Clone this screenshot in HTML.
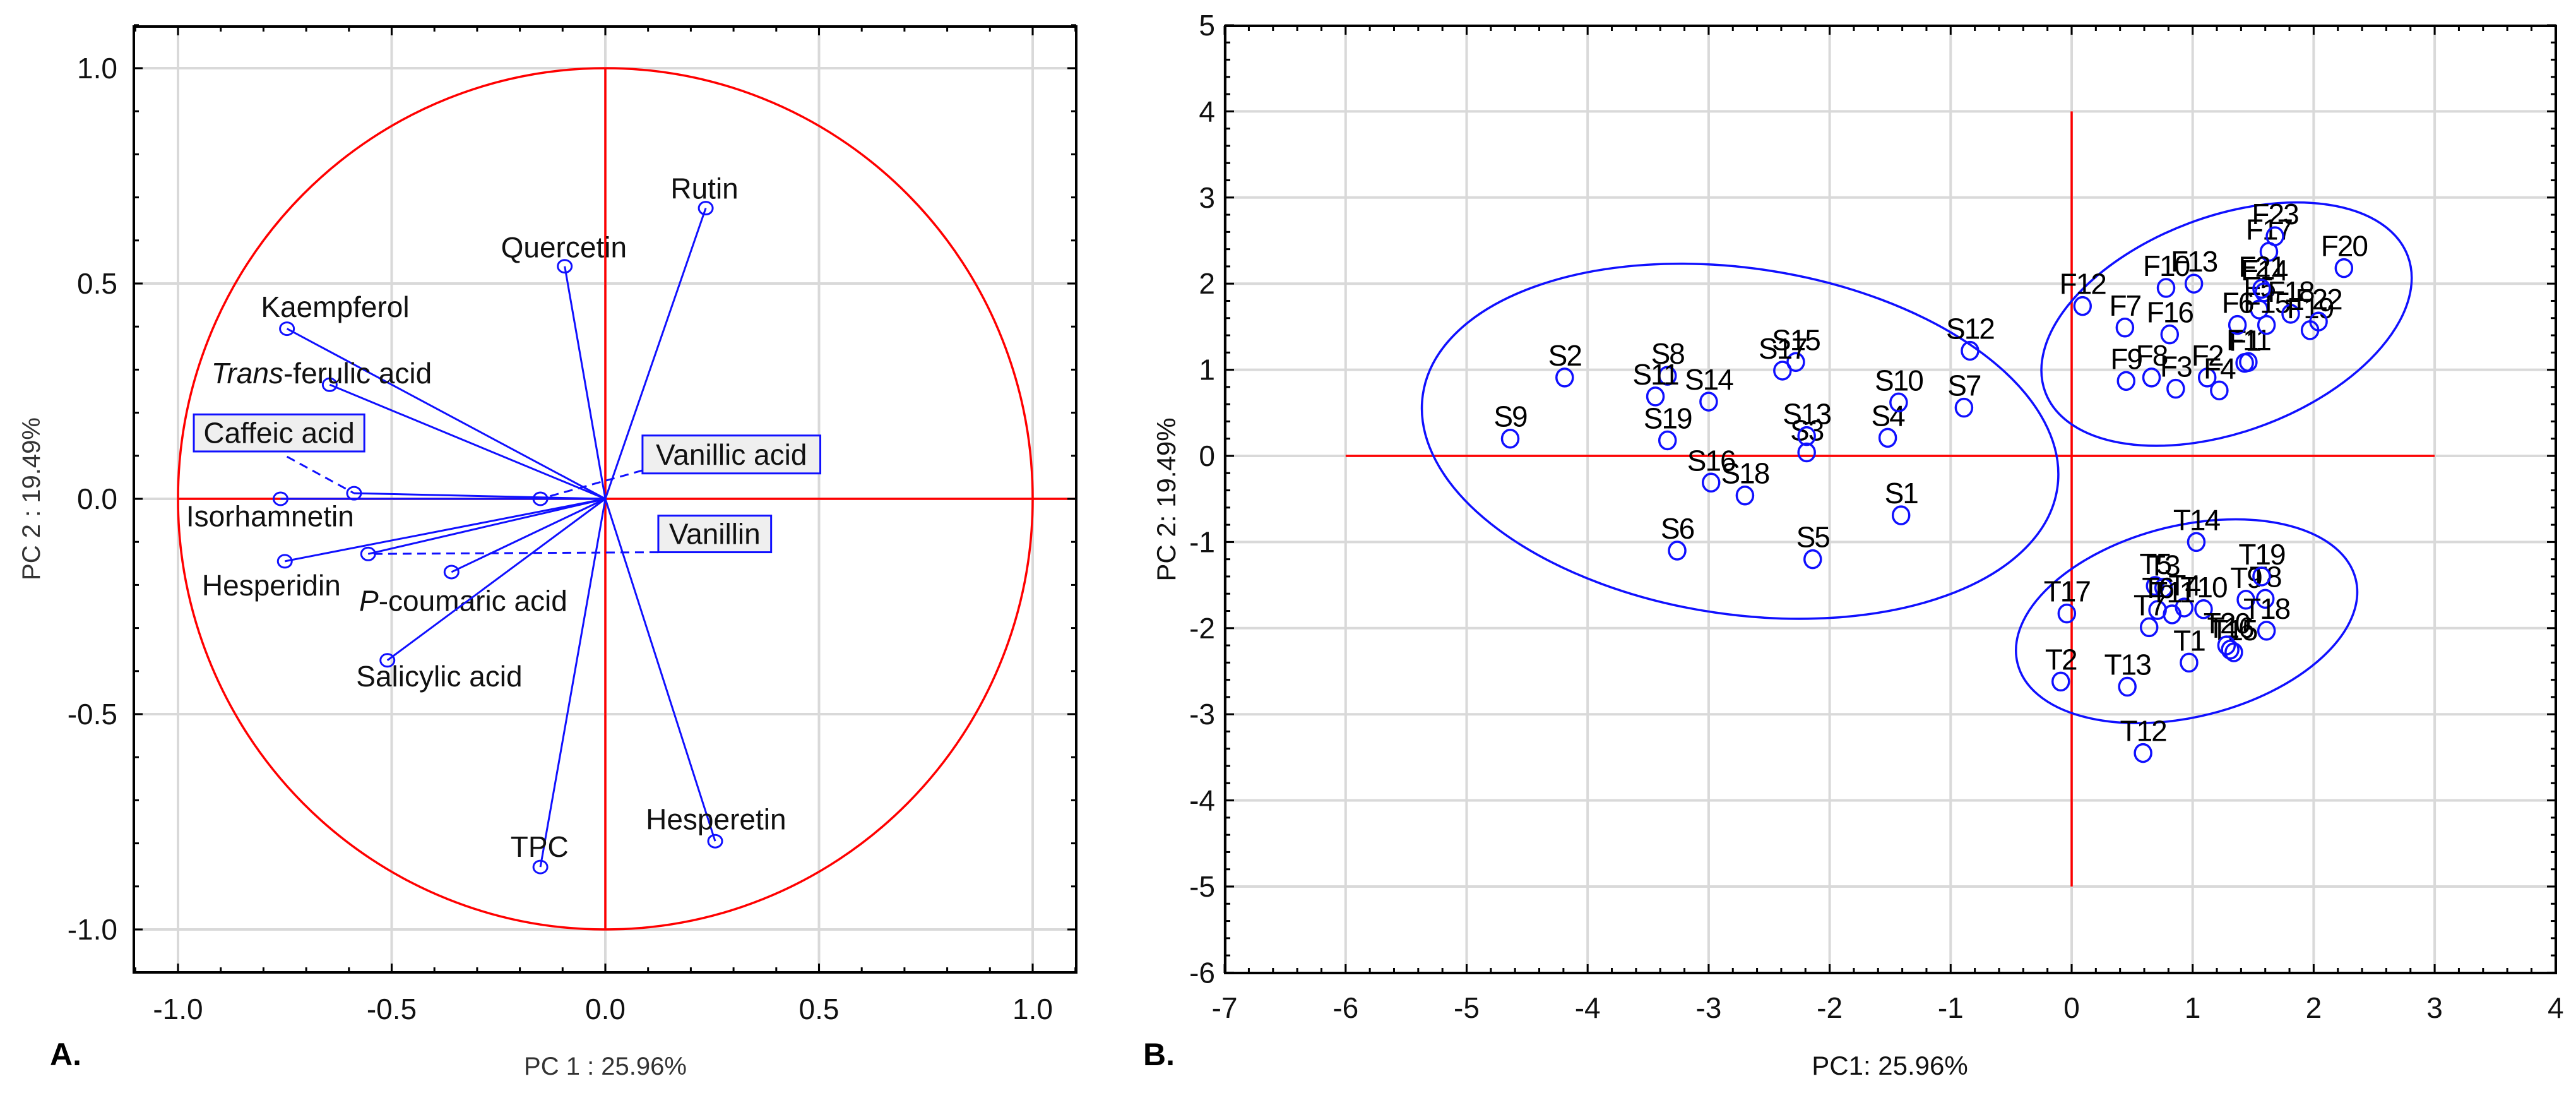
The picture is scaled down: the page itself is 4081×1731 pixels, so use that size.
<!DOCTYPE html>
<html><head><meta charset="utf-8"><title>PCA loadings and scores</title>
<style>
html,body{margin:0;padding:0;background:#fff;}
svg{display:block;font-family:"Liberation Sans",Arial,sans-serif;}
</style></head>
<body>
<svg id="fig" width="4081" height="1731" viewBox="0 0 4081 1731" xmlns="http://www.w3.org/2000/svg">
<rect x="0" y="0" width="4081" height="1731" fill="#fff"/>
<g id="pa"></g>
<g id="pb"></g>
<text x="79" y="1687" font-size="50" font-weight="bold">A.</text>
<text x="1811" y="1687" font-size="50" font-weight="bold">B.</text>
</svg>
<script>
// ---------- Panel A data (loadings) ----------
const varNames = ["Rutin","Quercetin","Kaempferol","Trans-ferulic acid","Caffeic acid","Isorhamnetin","Vanillic acid","Hesperidin","Vanillin","P-coumaric acid","Salicylic acid","TPC","Hesperetin"];
const varPC1 = [0.235,-0.095,-0.745,-0.645,-0.588,-0.76,-0.152,-0.75,-0.555,-0.36,-0.51,-0.152,0.257];
const varPC2 = [0.675,0.54,0.395,0.265,0.013,0.0,0.0,-0.145,-0.128,-0.17,-0.375,-0.855,-0.795];
const labX = [0.232,-0.097,-0.806,-0.922,null,-0.981,null,-0.944,null,-0.576,-0.583,-0.154,0.259];
const labY = [0.721,0.584,0.446,0.292,null,-0.04,null,-0.201,null,-0.237,-0.412,-0.808,-0.744];
const labAnchor = ["middle","middle","start","start","","start","","start","","start","start","middle","middle"];
const boxIdx = [4,6,8];
const boxX0 = [-0.963,0.087,0.124];
const boxX1 = [-0.564,0.503,0.388];
const boxY0 = [0.196,0.147,-0.039];
const boxY1 = [0.110,0.059,-0.124];
const dashFromX = [-0.745,0.087,0.124];
const dashFromY = [0.098,0.066,-0.124];
const ticksA = ["-1.0","-0.5","0.0","0.5","1.0"];
const tickValsA = [-1,-0.5,0,0.5,1];

// ---------- Panel B data (scores) ----------
const sNames = ["S1","S2","S3","S4","S5","S6","S7","S8","S9","S10","S11","S12","S13","S14","S15","S16","S17","S18","S19"];
const sPC1 = [-1.41,-4.19,-2.19,-1.52,-2.14,-3.26,-0.89,-3.34,-4.64,-1.43,-3.44,-0.84,-2.19,-3.0,-2.28,-2.98,-2.39,-2.70,-3.34];
const sPC2 = [-0.69,0.91,0.04,0.21,-1.20,-1.10,0.56,0.93,0.20,0.62,0.69,1.22,0.23,0.63,1.09,-0.31,0.99,-0.46,0.18];
const fNames = ["F1","F2","F3","F4","F5","F6","F7","F8","F9","F10","F11","F12","F13","F14","F15","F16","F17","F18","F19","F20","F21","F22","F23"];
const fPC1 = [1.43,1.12,0.86,1.22,1.55,1.37,0.44,0.66,0.45,0.78,1.46,0.09,1.01,1.59,1.61,0.81,1.63,1.81,1.97,2.25,1.57,2.04,1.68];
const fPC2 = [1.08,0.91,0.78,0.76,1.70,1.52,1.49,0.91,0.87,1.95,1.09,1.74,2.00,1.90,1.52,1.41,2.37,1.65,1.46,2.18,1.94,1.56,2.55];
const tNames = ["T1","T2","T3","T4","T5","T6","T7","T8","T9","T10","T11","T12","T13","T14","T15","T16","T17","T18","T19","T20"];
const tPC1 = [0.97,-0.09,0.76,0.93,0.69,0.71,0.64,1.60,1.44,1.09,0.83,0.59,0.46,1.03,1.34,1.31,-0.04,1.61,1.57,1.28];
const tPC2 = [-2.40,-2.62,-1.53,-1.76,-1.51,-1.79,-1.99,-1.66,-1.67,-1.78,-1.84,-3.45,-2.68,-1.00,-2.28,-2.25,-1.83,-2.03,-1.40,-2.20];
const ellCX = [-2.74,1.28,0.95];
const ellCY = [0.17,1.53,-1.92];
const ellA = [2.65,1.60,1.44];
const ellB = [2.01,1.25,1.11];
const ellRot = [8.4,-20.6,-14];
const ticksBX = ["-7","-6","-5","-4","-3","-2","-1","0","1","2","3","4"];
const ticksBY = ["-6","-5","-4","-3","-2","-1","0","1","2","3","4","5"];

const NS="http://www.w3.org/2000/svg";
function mk(parent,tag,attrs,txt){const e=document.createElementNS(NS,tag);for(const k in attrs)e.setAttribute(k,attrs[k]);if(txt!==undefined)e.textContent=txt;parent.appendChild(e);return e;}

// ===== Panel A =====
const A = document.getElementById('pa');
const aL=212,aR=1705,aT=42,aB=1540;
const ax = v => 959 + v*677;
const ay = v => 790 - v*682;
tickValsA.forEach(v=>{
  let g=mk(A,'line',{x1:ax(v),x2:ax(v),y1:aT,y2:aB,stroke:'#d9d9d9','stroke-width':4});
  
  
  let h=mk(A,'line',{x1:aL,x2:aR,y1:ay(v),y2:ay(v),stroke:'#d9d9d9','stroke-width':4});
  
  
});
let circ=mk(A,'ellipse',{cx:ax(0),cy:ay(0),rx:677,ry:682,fill:'none',stroke:'#ff0000','stroke-width':3.5});


let rh=mk(A,'line',{x1:ax(-1),x2:aR,y1:ay(0),y2:ay(0),stroke:'#ff0000','stroke-width':3.5});


let rv=mk(A,'line',{x1:ax(0),x2:ax(0),y1:ay(1),y2:ay(-1),stroke:'#ff0000','stroke-width':3.5});


let fa=mk(A,'rect',{x:aL,y:aT,width:aR-aL,height:aB-aT,fill:'none',stroke:'#000','stroke-width':4});


for(let i=-11;i<=11;i++){const v=i/10;const len=(i%5===0)?14:8;
  mk(A,'line',{x1:ax(v),x2:ax(v),y1:aB,y2:aB-len,stroke:'#000','stroke-width':3});
  mk(A,'line',{x1:ax(v),x2:ax(v),y1:aT,y2:aT+len,stroke:'#000','stroke-width':3});
  mk(A,'line',{x1:aL,x2:aL+len,y1:ay(v),y2:ay(v),stroke:'#000','stroke-width':3});
  mk(A,'line',{x1:aR,x2:aR-len,y1:ay(v),y2:ay(v),stroke:'#000','stroke-width':3});
}
tickValsA.forEach((v,i)=>{
  let t=mk(A,'text',{x:ax(v),y:1614,'font-size':46,'text-anchor':'middle',fill:'#111'},ticksA[i]);
  
  
  let u=mk(A,'text',{x:186,y:ay(v)+16,'font-size':46,'text-anchor':'end',fill:'#111'},ticksA[i]);
  
  
});
let xta=mk(A,'text',{x:959,y:1702,'font-size':40,'text-anchor':'middle',fill:'#333'},'PC 1 : 25.96%');


let yta=mk(A,'text',{x:0,y:0,'font-size':40,'text-anchor':'middle',fill:'#333',transform:'translate(63,790) rotate(-90)'},'PC 2 : 19.49%');


varNames.forEach((n,i)=>{
  let l=mk(A,'line',{x1:ax(0),y1:ay(0),x2:ax(varPC1[i]),y2:ay(varPC2[i]),stroke:'#1010ff','stroke-width':3});
  
  
  let c=mk(A,'ellipse',{cx:ax(varPC1[i]),cy:ay(varPC2[i]),rx:11,ry:10,fill:'none',stroke:'#1010ff','stroke-width':3});
  
  
  if(labX[i]!==null){
    const t=mk(A,'text',{x:ax(labX[i]),y:ay(labY[i])+16,'font-size':46,'text-anchor':labAnchor[i],fill:'#111'});
    
    
    if(n.indexOf('-')>0){const p=n.split('-');
      mk(t,'tspan',{'font-style':'italic'},p[0]);mk(t,'tspan',{},'-'+p.slice(1).join('-'));
    } else t.textContent=n;
  }
});
boxIdx.forEach((vi,k)=>{
  let d=mk(A,'line',{x1:ax(dashFromX[k]),y1:ay(dashFromY[k]),x2:ax(varPC1[vi]),y2:ay(varPC2[vi]),stroke:'#1010ff','stroke-width':3,'stroke-dasharray':'14,9'});
  
  
  let r=mk(A,'rect',{x:ax(boxX0[k]),y:ay(boxY0[k]),width:ax(boxX1[k])-ax(boxX0[k]),height:ay(boxY1[k])-ay(boxY0[k]),fill:'#efefef',stroke:'#1010ff','stroke-width':3});
  
  
  let t=mk(A,'text',{x:(ax(boxX0[k])+ax(boxX1[k]))/2,y:(ay(boxY0[k])+ay(boxY1[k]))/2+16,'font-size':46,'text-anchor':'middle',fill:'#111'},varNames[vi]);
  
  
});

// ===== Panel B =====
const B=document.getElementById('pb');
const bL=1941,bR=4049,bT=41,bB=1541;
const bx=v=>3282+v*191.7;
const by=v=>722-v*136.4;
ticksBX.forEach(s=>{const v=+s;
  let g=mk(B,'line',{x1:bx(v),x2:bx(v),y1:bT,y2:bB,stroke:'#d9d9d9','stroke-width':4});
  
  
  let t=mk(B,'text',{x:bx(v),y:1612,'font-size':46,'text-anchor':'middle',fill:'#111'},s);
  
  
});
ticksBY.forEach(s=>{const v=+s;
  let g=mk(B,'line',{x1:bL,x2:bR,y1:by(v),y2:by(v),stroke:'#d9d9d9','stroke-width':4});
  
  
  let t=mk(B,'text',{x:1925,y:by(v)+16,'font-size':46,'text-anchor':'end',fill:'#111'},s);
  
  
});
let bh=mk(B,'line',{x1:bx(-6),x2:bx(3),y1:by(0),y2:by(0),stroke:'#ff0000','stroke-width':3.5});


let bv=mk(B,'line',{x1:bx(0),x2:bx(0),y1:by(4),y2:by(-5),stroke:'#ff0000','stroke-width':3.5});


let fb=mk(B,'rect',{x:bL,y:bT,width:bR-bL,height:bB-bT,fill:'none',stroke:'#000','stroke-width':4});


for(let i=-35;i<=20;i++){const v=i/5;const len=(i%5===0)?14:8;
  mk(B,'line',{x1:bx(v),x2:bx(v),y1:bB,y2:bB-len,stroke:'#000','stroke-width':3});
  mk(B,'line',{x1:bx(v),x2:bx(v),y1:bT,y2:bT+len,stroke:'#000','stroke-width':3});
}
for(let i=-30;i<=25;i++){const v=i/5;const len=(i%5===0)?14:8;
  mk(B,'line',{x1:bL,x2:bL+len,y1:by(v),y2:by(v),stroke:'#000','stroke-width':3});
  mk(B,'line',{x1:bR,x2:bR-len,y1:by(v),y2:by(v),stroke:'#000','stroke-width':3});
}
let xtb=mk(B,'text',{x:2994,y:1702,'font-size':42,'text-anchor':'middle',fill:'#111'},'PC1: 25.96%');


let ytb=mk(B,'text',{x:0,y:0,'font-size':42,'text-anchor':'middle',fill:'#111',transform:'translate(1862,791) rotate(-90)'},'PC 2: 19.49%');


ellCX.forEach((cx,k)=>{
  const rx=ellA[k]*191.7, ry=ellB[k]*136.4;
  let e=mk(B,'ellipse',{cx:bx(cx),cy:by(ellCY[k]),rx:rx,ry:ry,fill:'none',stroke:'#1010ff','stroke-width':3.5,transform:`rotate(${ellRot[k]} ${bx(cx)} ${by(ellCY[k])})`});
  
  
});
function drawGroup(names,xs,ys){
  names.forEach((n,i)=>{
    let c=mk(B,'ellipse',{cx:bx(xs[i]),cy:by(ys[i]),rx:13,ry:14,fill:'none',stroke:'#1010ff','stroke-width':3.5});
    
    
    let t=mk(B,'text',{x:bx(xs[i]),y:by(ys[i])-19,'font-size':46,'letter-spacing':-2,'text-anchor':'middle',fill:'#000'},n);
    
    
  });
}
drawGroup(sNames,sPC1,sPC2);
drawGroup(fNames,fPC1,fPC2);
drawGroup(tNames,tPC1,tPC2);
</script>
</body></html>
